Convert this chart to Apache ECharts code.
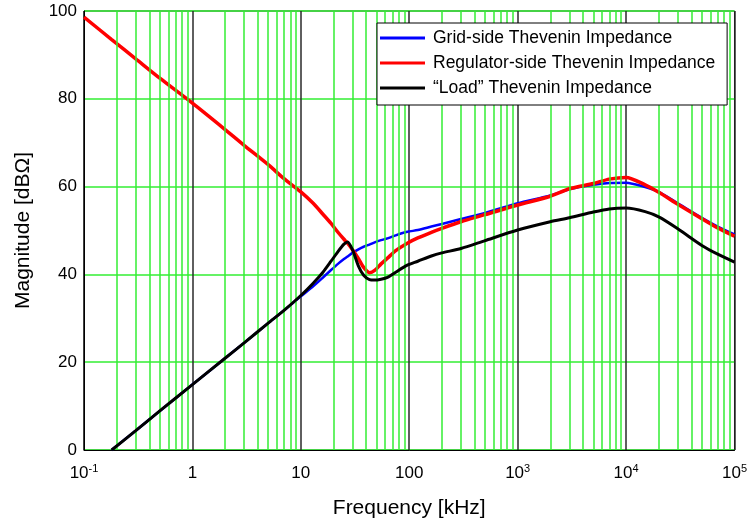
<!DOCTYPE html>
<html>
<head>
<meta charset="utf-8">
<script src="https://cdn.jsdelivr.net/npm/echarts@6/dist/echarts.min.js"></script>
<style>html,body{margin:0;padding:0;background:#fff}#chart{width:750px;height:525px}</style>
</head>
<body>
<div id="chart"></div>
<script>
// Frequency points [kHz]
const freqs = [0.1, 0.18, 0.3, 0.5, 1, 2, 3, 5, 7, 10, 13, 16, 19, 22, 25, 27, 30, 34, 38, 43, 48, 55, 63, 75, 96, 120, 160, 200, 300, 500, 1000, 2000, 3000, 5000, 7000, 10000, 15000, 20000, 30000, 50000, 70000, 100000];
// Grid-side Thevenin impedance [dBΩ]
const gridSide = [null, 0, 4.4, 8.9, 14.9, 20.9, 24.4, 28.9, 31.8, 35.0, 37.3, 39.3, 41.0, 42.4, 43.5, 44.1, 44.9, 45.7, 46.3, 46.8, 47.3, 47.8, 48.2, 48.9, 49.7, 50.1, 50.9, 51.5, 52.6, 54.0, 56.2, 58.0, 59.4, 60.4, 60.8, 60.9, 59.9, 58.8, 56.2, 52.9, 50.9, 49.1];
// Regulator-side Thevenin impedance [dBΩ]
const regulatorSide = [98.6, 93.5, 89.1, 84.7, 79.0, 73.0, 69.4, 65.0, 61.8, 58.8, 56.2, 53.7, 51.6, 49.6, 48.0, 47.1, 45.6, 43.6, 41.6, 40.4, 40.9, 42.4, 43.7, 45.4, 47.1, 48.3, 49.6, 50.5, 52.0, 53.6, 55.8, 57.8, 59.5, 60.7, 61.7, 62.1, 60.4, 58.7, 56.0, 52.7, 50.6, 48.7];
// "Load" Thevenin impedance [dBΩ]
const loadSide = [null, 0, 4.4, 8.9, 14.9, 20.9, 24.4, 28.9, 31.8, 35.2, 38.0, 40.5, 43.0, 45.2, 46.9, 47.4, 45.6, 41.9, 39.8, 38.8, 38.7, 38.9, 39.3, 40.5, 42.1, 43.0, 44.2, 44.9, 45.9, 47.7, 50.1, 52.0, 52.9, 54.2, 54.9, 55.1, 54.3, 53.1, 50.4, 46.6, 44.6, 42.8];
// Tick labels for decades 10^-1 ... 10^5
const xTickLabels = ['10{sup|-1}', '1', '10', '100', '10{sup|3}', '10{sup|4}', '10{sup|5}'];
// Minor grid multipliers within each decade
const minorFactors = [2, 3, 4, 5, 6, 7, 8, 9];
const decades = [0.1, 1, 10, 100, 1000, 10000];

const seriesNames = ['Grid-side Thevenin Impedance', 'Regulator-side Thevenin Impedance', '\u201cLoad\u201d Thevenin Impedance'];

function pairs(vals) {
  const out = [];
  freqs.forEach((f, i) => { if (vals[i] !== null) out.push([f, vals[i]]); });
  return out;
}
const minorLines = [];
decades.forEach(d => minorFactors.forEach(m => minorLines.push({ xAxis: +(d * m).toPrecision(6) })));

const FONT = 'Liberation Sans';
const GREEN = '#33ee33';

const chart = echarts.init(document.getElementById('chart'), null, { renderer: 'canvas' });
chart.setOption({
  animation: false,
  backgroundColor: '#fff',
  grid: { left: 84, right: 12, top: 11, bottom: 75, show: true, borderColor: '#000', borderWidth: 1, backgroundColor: 'transparent' },
  legend: {
    z: 100, zlevel: 0,
    orient: 'vertical',
    left: 377, top: 23,
    padding: [5, 12, 7, 3],
    itemGap: 5,
    itemWidth: 45, itemHeight: 3,
    icon: 'rect',
    backgroundColor: '#fff',
    borderColor: '#000', borderWidth: 1,
    textStyle: { fontFamily: FONT, fontSize: 17.5, color: '#000', lineHeight: 20, padding: [0, 0, 0, 3] },
    data: seriesNames,
    selectedMode: false
  },
  xAxis: {
    type: 'log', logBase: 10, min: 0.1, max: 100000,
    name: 'Frequency [kHz]', nameLocation: 'middle', nameGap: 48,
    nameTextStyle: { fontFamily: FONT, fontSize: 21, color: '#000' },
    axisLine: { show: true, lineStyle: { color: '#000', width: 1 } },
    axisTick: { show: false },
    minorTick: { show: false },
    axisLabel: {
      margin: 13, color: '#000', fontFamily: FONT, fontSize: 17, lineHeight: 20,
      formatter: v => xTickLabels[Math.round(Math.log10(v)) + 1],
      rich: { sup: { fontFamily: FONT, fontSize: 11, verticalAlign: 'top', lineHeight: 11, color: '#000' } }
    },
    splitLine: { show: true, lineStyle: { color: '#2a2a2a', width: 1.5 } }
  },
  yAxis: {
    type: 'value', min: 0, max: 100, interval: 20,
    name: 'Magnitude [dB\u03a9]', nameLocation: 'middle', nameGap: 50,
    nameTextStyle: { fontFamily: FONT, fontSize: 21, color: '#000' },
    axisLine: { show: true, lineStyle: { color: '#000', width: 1 } },
    axisTick: { show: false },
    axisLabel: { margin: 7, color: '#000', fontFamily: FONT, fontSize: 17 },
    splitLine: { show: true, lineStyle: { color: GREEN, width: 1.5 } }
  },
  series: [
    {
      name: '_minorgrid', type: 'line', data: [], z: 1, silent: true,
      markLine: {
        silent: true, symbol: ['none', 'none'], animation: false,
        label: { show: false }, emphasis: { disabled: true },
        lineStyle: { color: GREEN, width: 1.5, type: 'solid' },
        data: minorLines
      }
    },
    {
      name: seriesNames[0], type: 'line', data: pairs(gridSide), z: 3,
      showSymbol: false, smooth: 0.25, color: '#0000ff',
      lineStyle: { color: '#0000ff', width: 2.5 }, emphasis: { disabled: true }
    },
    {
      name: seriesNames[1], type: 'line', data: pairs(regulatorSide), z: 4,
      showSymbol: false, smooth: 0.25, color: '#ff0000',
      lineStyle: { color: '#ff0000', width: 3.5 }, emphasis: { disabled: true }
    },
    {
      name: seriesNames[2], type: 'line', data: pairs(loadSide), z: 5,
      showSymbol: false, smooth: 0.25, color: '#000000',
      lineStyle: { color: '#000000', width: 3 }, emphasis: { disabled: true }
    }
  ]
});
</script>
</body>
</html>
